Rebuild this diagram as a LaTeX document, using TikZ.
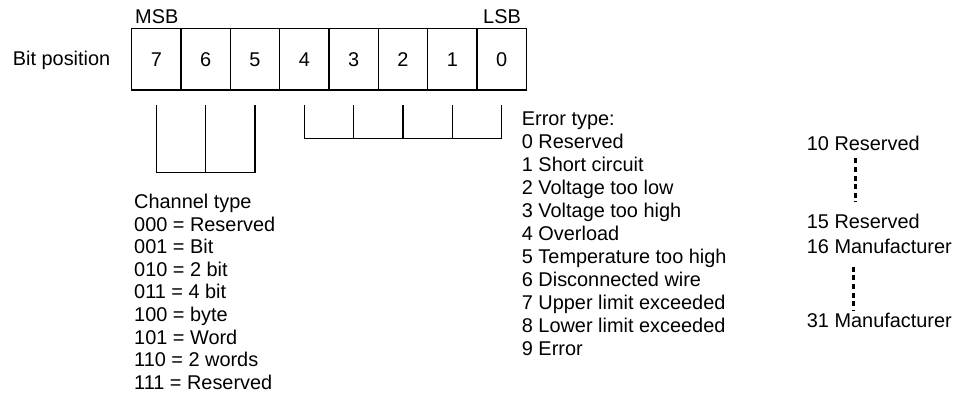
\documentclass[tikz,border=0pt]{standalone}
\usepackage{fontspec}
\setmainfont{Liberation Sans}

\begin{document}
\begin{tikzpicture}[
    x=1pt, y=-1pt,
    font=\fontsize{19.9}{23}\selectfont,
    bitbox/.style={draw=black, line width=1.1pt, minimum width=49.33pt, minimum height=61.7pt,
        inner sep=0pt, text height=14.3pt, text depth=0pt},
    bracket/.style={draw=black, line width=1.1pt},
    label/.style={anchor=base west, inner sep=0pt},
    dotline/.style={line width=2.6pt, dash pattern=on 5pt off 3.6pt}
]
    \useasboundingbox (0,0) rectangle (959,396);

    % Register boxes
    \foreach \b in {7,...,0}
        \node[bitbox] (b\b) at ({156.35+49.33*(7-\b)}, 59.15) {\b};

    % Header labels
    \node[label] (pos) at (12.7, 65.5) {Bit position};
    \node[label] (msb) at (135, 23.5) {MSB};
    \node[label, anchor=base east] (lsb) at (521, 23.5) {LSB};

    % Channel type bracket (bits 7..5)
    \draw[bracket] ([yshift=-14.3pt]b7.south) -- ([yshift=-82.3pt]b7.south)
        -- ([yshift=-82.3pt]b5.south) -- ([yshift=-14.3pt]b5.south);
    \draw[bracket] ([yshift=-14.3pt]b6.south) -- ([yshift=-82.3pt]b6.south);

    % Error type bracket (bits 4..0)
    \draw[bracket] ([yshift=-14.3pt]b4.south) -- ([yshift=-47.7pt]b4.south)
        -- ([yshift=-47.7pt]b0.south) -- ([yshift=-14.3pt]b0.south);
    \foreach \b in {3,2,1}
        \draw[bracket] ([yshift=-14.3pt]b\b.south) -- ([yshift=-47.7pt]b\b.south);

    % Channel type list
    \foreach \t [count=\i from 0] in {Channel type, 000 = Reserved, 001 = Bit,
        010 = 2 bit, 011 = 4 bit, 100 = byte, 101 = Word, 110 = 2 words, 111 = Reserved}
        \node[label] (ch\i) at (134, 208.5+22.6*\i) {\t};

    % Error type list
    \foreach \t [count=\i from 0] in {Error type:, 0 Reserved, 1 Short circuit,
        2 Voltage too low, 3 Voltage too high, 4 Overload, 5 Temperature too high,
        6 Disconnected wire, 7 Upper limit exceeded, 8 Lower limit exceeded, 9 Error}
        \node[label] (er\i) at (521.7, 125.3+23*\i) {\t};

    % Further error codes
    \node[label] (er10) at (806.7, 150.3) {10 Reserved};
    \node[label] (er15) at (806.7, 228) {15 Reserved};
    \node[label] (er16) at (806.7, 253.7) {16 Manufacturer};
    \node[label] (er31) at (806.7, 327) {31 Manufacturer};

    \coordinate (d1a) at (855.7, 158.3);
    \coordinate (d1b) at (855.7, 201.7);
    \coordinate (d2a) at (853.3, 266.7);
    \coordinate (d2b) at (853.3, 310);
    \draw[dotline] (d1a) -- (d1b);
    \draw[dotline] (d2a) -- (d2b);

\end{tikzpicture}
\end{document}
